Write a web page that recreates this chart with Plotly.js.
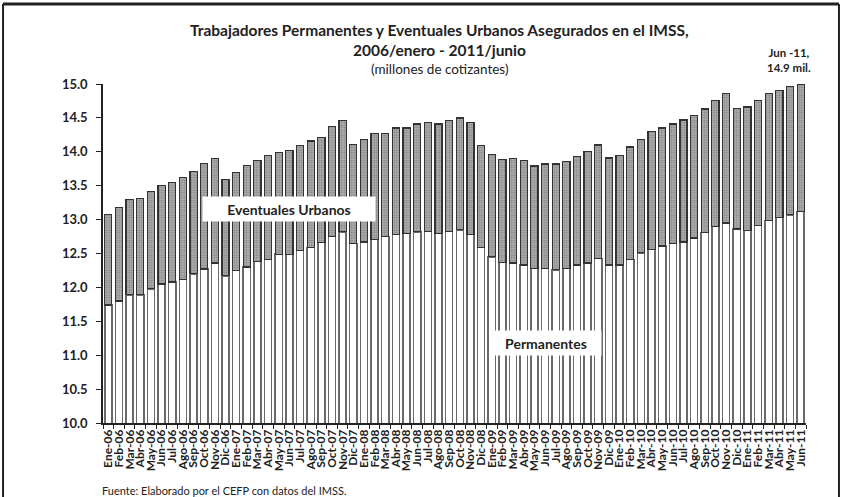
<!DOCTYPE html>
<html>
<head>
<meta charset="utf-8">
<script src="https://cdn.plot.ly/plotly-3.0.1.min.js"></script>
<style>
  html, body { margin: 0; padding: 0; background: #fff; }
  #chart { width: 843px; height: 497px; }
</style>
</head>
<body>
<div id="chart"></div>
<script>
// meses ene-2006 .. jun-2011
let meses = [
  "Ene-06","Feb-06","Mar-06","Abr-06","May-06","Jun-06","Jul-06","Ago-06","Sep-06","Oct-06","Nov-06","Dic-06",
  "Ene-07","Feb-07","Mar-07","Abr-07","May-07","Jun-07","Jul-07","Ago-07","Sep-07","Oct-07","Nov-07","Dic-07",
  "Ene-08","Feb-08","Mar-08","Abr-08","May-08","Jun-08","Jul-08","Ago-08","Sep-08","Oct-08","Nov-08","Dic-08",
  "Ene-09","Feb-09","Mar-09","Abr-09","May-09","Jun-09","Jul-09","Ago-09","Sep-09","Oct-09","Nov-09","Dic-09",
  "Ene-10","Feb-10","Mar-10","Abr-10","May-10","Jun-10","Jul-10","Ago-10","Sep-10","Oct-10","Nov-10","Dic-10",
  "Ene-11","Feb-11","Mar-11","Abr-11","May-11","Jun-11"
];

// millones de cotizantes
let permanentes = [
  11.74, 11.80, 11.89, 11.89, 11.98, 12.05, 12.08, 12.12, 12.20, 12.27, 12.36, 12.17,
  12.25, 12.30, 12.38, 12.41, 12.49, 12.49, 12.55, 12.59, 12.66, 12.75, 12.82, 12.65,
  12.67, 12.71, 12.75, 12.78, 12.80, 12.82, 12.83, 12.80, 12.83, 12.85, 12.78, 12.59,
  12.45, 12.37, 12.36, 12.33, 12.28, 12.28, 12.26, 12.28, 12.33, 12.36, 12.43, 12.33,
  12.33, 12.41, 12.51, 12.56, 12.61, 12.65, 12.67, 12.73, 12.81, 12.90, 12.95, 12.86,
  12.84, 12.91, 12.99, 13.03, 13.07, 13.12
];

let eventuales = [
  1.33, 1.38, 1.41, 1.42, 1.43, 1.45, 1.47, 1.50, 1.51, 1.56, 1.54, 1.42,
  1.44, 1.50, 1.49, 1.53, 1.50, 1.53, 1.54, 1.57, 1.55, 1.62, 1.64, 1.46,
  1.51, 1.56, 1.52, 1.57, 1.55, 1.59, 1.60, 1.61, 1.63, 1.65, 1.65, 1.50,
  1.51, 1.52, 1.54, 1.54, 1.51, 1.54, 1.56, 1.58, 1.60, 1.64, 1.67, 1.58,
  1.61, 1.66, 1.67, 1.74, 1.74, 1.76, 1.80, 1.81, 1.82, 1.86, 1.91, 1.78,
  1.82, 1.85, 1.87, 1.87, 1.89, 1.88
];

let yticks = [10.0, 10.5, 11.0, 11.5, 12.0, 12.5, 13.0, 13.5, 14.0, 14.5, 15.0];

let fuente = "Lato, 'Open Sans', sans-serif";

let perm = {
    x: meses,
    y: permanentes,
    type: 'bar',
    name: 'Permanentes',
    marker: {
        color: '#ffffff',
        line: { color: '#6a6a6a', width: 1.5 }
    },
    hoverinfo: 'x+y'
};

let even = {
    x: meses,
    y: eventuales,
    type: 'bar',
    name: 'Eventuales Urbanos',
    cliponaxis: false,
    marker: {
        color: '#a9a9a9',
        pattern: { shape: '.', bgcolor: '#b2b2b2', fgcolor: '#7a7a7a', size: 2.5, solidity: 0.4 },
        line: { color: '#333333', width: 1.2 }
    },
    hoverinfo: 'x+y'
};

// marco del grafico (pixeles -> papel; area de trazado 103..806 x 84..423)
let bx0 = -0.1422, bx1 = 1.0469, by0 = -0.25, by1 = 1.236;

let layout = {
    width: 843,
    height: 497,
    barmode: 'stack',
    bargap: 0.33,
    showlegend: false,
    paper_bgcolor: '#ffffff',
    plot_bgcolor: '#ffffff',
    font: { family: fuente, color: '#222' },
    margin: { l: 103, r: 37, t: 84, b: 74 },
    xaxis: {
        type: 'category',
        tickmode: 'array',
        tickvals: meses,
        ticktext: meses,
        tickangle: -90,
        tickfont: { size: 12, family: fuente, weight: 'bold', color: '#222' },
        showline: true,
        linecolor: '#222',
        linewidth: 1.5,
        ticks: 'outside',
        tickson: 'boundaries',
        ticklen: 4,
        tickcolor: '#222',
        showgrid: false,
        zeroline: false
    },
    yaxis: {
        range: [10, 15],
        tickvals: yticks,
        tickformat: '.1f',
        tickfont: { size: 13, family: fuente, weight: 'bold', color: '#222' },
        showline: true,
        linecolor: '#222',
        linewidth: 1.5,
        ticks: 'outside',
        ticklen: 5,
        tickcolor: '#222',
        ticklabelstandoff: 6,
        showgrid: false,
        zeroline: false
    },
    shapes: [
        { type: 'line', xref: 'paper', yref: 'paper', x0: bx0, x1: bx1, y0: by1, y1: by1,
          line: { color: '#222', width: 3 } },
        { type: 'line', xref: 'paper', yref: 'paper', x0: bx0, x1: bx0, y0: by0, y1: by1,
          line: { color: '#222', width: 2 } },
        { type: 'line', xref: 'paper', yref: 'paper', x0: bx1, x1: bx1, y0: by0, y1: by1,
          line: { color: '#222', width: 2 } }
    ],
    annotations: [
        {
            text: '<b>Trabajadores Permanentes y Eventuales Urbanos Asegurados en el IMSS,</b>',
            xref: 'paper', yref: 'paper', x: 0.479, y: 1.159, xanchor: 'center', yanchor: 'middle',
            showarrow: false, font: { size: 15.5, family: fuente, color: '#222' }
        },
        {
            text: '<b>2006/enero - 2011/junio</b>',
            xref: 'paper', yref: 'paper', x: 0.479, y: 1.100, xanchor: 'center', yanchor: 'middle',
            showarrow: false, font: { size: 15.5, family: fuente, color: '#222' }
        },
        {
            text: '(millones de cotizantes)',
            xref: 'paper', yref: 'paper', x: 0.479, y: 1.044, xanchor: 'center', yanchor: 'middle',
            showarrow: false, font: { size: 13.5, family: fuente, color: '#222' }
        },
        {
            text: '<b>Jun -11,<br>14.9 mil.</b>',
            xref: 'paper', yref: 'paper', x: 0.976, y: 1.071, xanchor: 'center', yanchor: 'middle',
            showarrow: false, font: { size: 11.5, family: fuente, color: '#222' }
        },
        {
            text: '<b>Eventuales Urbanos</b>',
            xref: 'paper', yref: 'y', x: 0.265, y: 13.15, xanchor: 'center', yanchor: 'middle',
            showarrow: false, bgcolor: '#ffffff', width: 170, height: 22,
            font: { size: 14, family: fuente, color: '#222' }
        },
        {
            text: '<b>Permanentes</b>',
            xref: 'paper', yref: 'y', x: 0.63, y: 11.18, xanchor: 'center', yanchor: 'middle',
            showarrow: false, bgcolor: '#ffffff', width: 108, height: 22,
            font: { size: 14, family: fuente, color: '#222' }
        },
        {
            text: 'Fuente: Elaborado por el CEFP con datos del IMSS.',
            xref: 'paper', yref: 'paper', x: -0.004, y: -0.2, xanchor: 'left', yanchor: 'middle',
            showarrow: false, font: { size: 11, family: fuente, color: '#222' }
        }
    ]
};

Plotly.newPlot('chart', [perm, even], layout, {
    displayModeBar: false,
    responsive: false
});
</script>
</body>
</html>
